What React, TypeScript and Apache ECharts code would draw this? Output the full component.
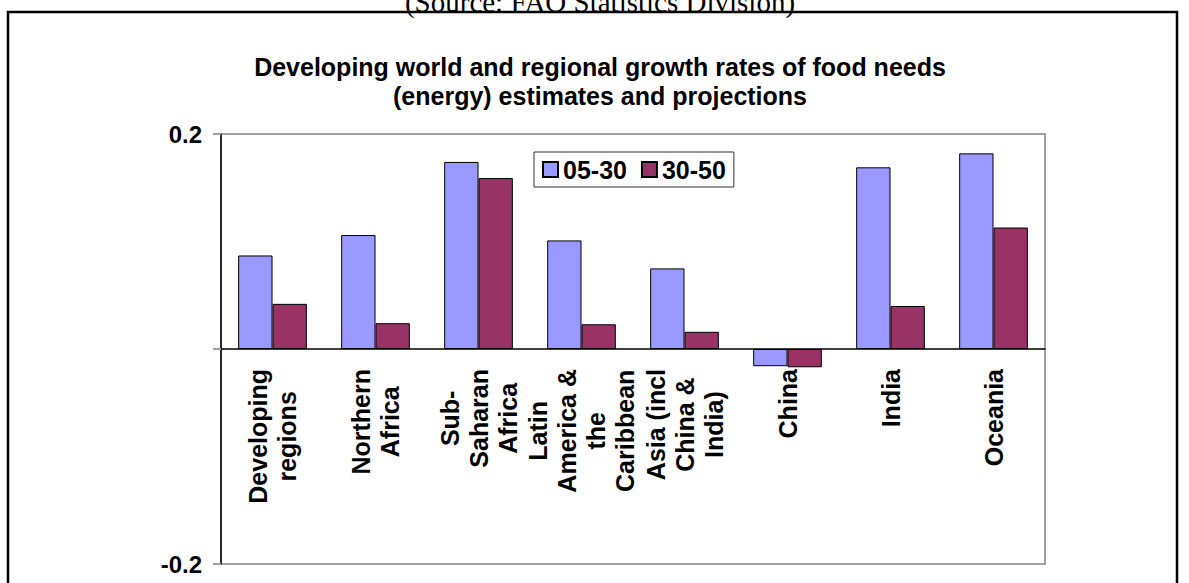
import React, { useEffect, useRef } from "react";
import * as echarts from "echarts";

const categories = [
  "Developing\nregions",
  "Northern\nAfrica",
  "Sub-\nSaharan\nAfrica",
  "Latin\nAmerica &\nthe\nCaribbean",
  "Asia (incl\nChina &\nIndia)",
  "China",
  "India",
  "Oceania",
];
const series0530 = [0.087, 0.106, 0.174, 0.101, 0.075, -0.016, 0.169, 0.182];
const series3050 = [0.042, 0.024, 0.159, 0.023, 0.016, -0.017, 0.04, 0.113];
const seriesNames = ["05-30", "30-50"];
const yTickLabels = ["0.2", "-0.2"];
const titleText =
  "Developing world and regional growth rates of food needs\n(energy) estimates and projections";
const sourceText = "(Source: FAO Statistics Division)";

const FONT = "'Liberation Sans', Arial, sans-serif";

const GRID_TOP = 134;
const GRID_BOTTOM = 19;
const CHART_H = 583;

export default function App() {
  const ref = useRef<HTMLDivElement>(null);
  useEffect(() => {
    if (!ref.current) return;
    const chart = echarts.init(ref.current, null, { renderer: "svg" });
    const plotH = CHART_H - GRID_TOP - GRID_BOTTOM;
    chart.setOption({
      animation: false,
      backgroundColor: "#ffffff",
      graphic: [
        {
          type: "rect",
          shape: { x: 8, y: 12, width: 1169, height: 600 },
          style: { fill: "none", stroke: "#000", lineWidth: 2.5 },
          silent: true,
        },
        {
          type: "text",
          x: 600,
          y: 16,
          style: {
            text: sourceText,
            fontFamily: "'Liberation Serif', 'Times New Roman', serif",
            fontSize: 29,
            lineHeight: 29,
            fill: "#000",
            align: "center",
            verticalAlign: "bottom",
          },
        },
        {
          type: "text",
          x: 600,
          y: 52,
          style: {
            text: titleText,
            fontFamily: FONT,
            fontSize: 25,
            fontWeight: "bold",
            lineHeight: 29,
            fill: "#000",
            align: "center",
            verticalAlign: "top",
          },
        },
      ],
      legend: {
        left: 534,
        top: 152,
        orient: "horizontal",
        data: seriesNames,
        icon: "rect",
        itemWidth: 15,
        itemHeight: 15,
        itemGap: 14,
        padding: [5, 8, 5, 8],
        borderColor: "#333",
        borderWidth: 1,
        backgroundColor: "#fff",
        textStyle: {
          fontFamily: FONT,
          fontSize: 25,
          fontWeight: "bold",
          color: "#000",
          lineHeight: 25,
        },
      },
      grid: {
        left: 221,
        right: 144,
        top: GRID_TOP,
        bottom: GRID_BOTTOM,
        show: true,
        borderColor: "#a0a0a0",
        borderWidth: 2,
        containLabel: false,
        outerBoundsMode: "none",
      },
      xAxis: {
        type: "category",
        data: categories,
        position: "bottom",
        offset: -plotH / 2,
        axisLine: { show: true, onZero: false, lineStyle: { color: "#000", width: 1.5 } },
        axisTick: { show: false },
        splitLine: { show: false },
        axisLabel: {
          interval: 0,
          rotate: 90,
          margin: 20,
          fontFamily: FONT,
          fontSize: 25,
          fontWeight: "bold",
          color: "#000",
          lineHeight: 29,
          hideOverlap: false,
          formatter: (v: string) =>
            v
              .split("\n")
              .map((l) => "{c|" + l + "}")
              .join("\n"),
          rich: {
            c: {
              fontFamily: FONT,
              fontSize: 25,
              fontWeight: "bold",
              color: "#000",
              lineHeight: 29,
              align: "center",
            },
          },
        },
      },
      yAxis: {
        type: "value",
        min: -0.2,
        max: 0.2,
        interval: 0.2,
        axisLine: { show: true, lineStyle: { color: "#000", width: 1.5 } },
        axisTick: { show: true, length: 8, lineStyle: { color: "#a0a0a0", width: 2 } },
        splitLine: { show: false },
        axisLabel: {
          margin: 19,
          fontFamily: FONT,
          fontSize: 24,
          fontWeight: "bold",
          color: "#000",
          formatter: (v: number) => {
            const s = v.toFixed(1);
            return yTickLabels.indexOf(s) >= 0 ? s : "";
          },
        },
      },
      series: [
        {
          name: seriesNames[0],
          type: "bar",
          data: series0530,
          barGap: "0%",
          barCategoryGap: "33.33%",
          itemStyle: { color: "#9999FF", borderColor: "#000", borderWidth: 1 },
        },
        {
          name: seriesNames[1],
          type: "bar",
          data: series3050,
          barGap: "0%",
          barCategoryGap: "33.33%",
          itemStyle: { color: "#993366", borderColor: "#000", borderWidth: 1 },
        },
      ],
    });
    return () => chart.dispose();
  }, []);
  return (
    <div
      ref={ref}
      style={{ position: "fixed", left: 0, top: 0, width: 1189, height: 583 }}
    />
  );
}
